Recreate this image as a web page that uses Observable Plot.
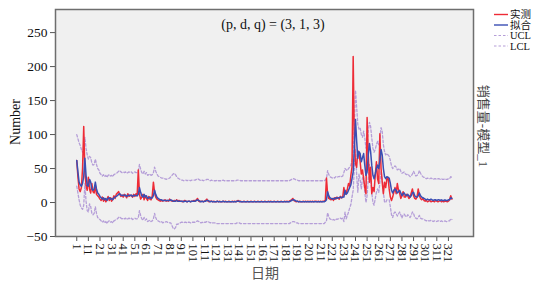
<!DOCTYPE html>
<html><head><meta charset="utf-8">
<script src="https://cdn.jsdelivr.net/npm/d3@7"></script>
<script src="https://cdn.jsdelivr.net/npm/@observablehq/plot@0.6"></script>
<style>body{margin:0;background:#fff} #chart{width:540px;height:283px}</style>
</head><body><div id="chart"></div><script>
const actual = [
62,38,20,16,22,50,112,45,25,18,
37,20,14,28,16,14,25,12,10,8,
5,3,8,2,6,1,4,9,3,7,
2,5,10,6,12,14,16,12,9,11,
8,12,10,7,13,9,11,10,8,12,
9,13,10,48,12,5,8,12,4,10,
6,3,9,5,4,10,30,15,8,5,
4,3,2,3,2,3,4,2,3,2,
5,3,2,2,3,2,4,2,3,2,
2,1,2,3,2,1,2,2,1,2,
2,3,2,4,6,2,1,2,2,1,
2,3,5,2,1,2,2,1,2,1,
1,2,1,2,1,1,2,1,2,1,
1,2,1,1,2,1,2,1,2,3,
1,2,1,1,2,1,1,2,1,1,
2,1,1,2,1,1,2,1,1,2,
1,1,2,1,1,2,1,2,1,1,
2,1,1,2,1,1,2,1,1,2,
1,2,1,2,3,4,6,3,2,1,
2,1,2,1,1,2,1,2,1,2,
1,2,1,2,1,2,2,1,2,1,
2,1,2,2,3,36,12,6,5,4,
6,3,7,5,8,6,5,9,7,8,
22,12,14,20,28,24,40,52,215,90,
57,52,76,72,60,42,48,35,22,13,
125,70,30,52,13,22,16,40,60,35,
28,101,50,30,13,30,22,35,37,20,
8,3,8,15,22,13,28,18,14,6,
10,16,8,8,12,10,6,8,14,20,
10,6,5,8,20,10,6,4,6,3,
2,3,1,2,3,1,2,2,1,3,
2,1,2,3,1,2,1,2,2,1,
2,4,10,5];
const fitted = [
62,45,30,26,24,28,38,65,40,25,
24,34,30,20,18,20,30,20,14,12,
9,7,5,7,4,6,3,6,7,5,
6,4,7,8,9,10,12,13,11,10,
11,10,11,9,10,11,10,11,9,10,
11,10,10,12,22,15,10,8,12,8,
10,6,7,8,6,7,10,18,12,8,
6,5,4,4,3,3,3,3,3,3,
3,4,3,2,2,2,3,2,2,2,
2,2,1,2,2,1,2,2,1,2,
2,2,2,3,4,3,2,1,2,1,
2,2,3,3,2,1,2,1,1,1,
1,2,1,1,1,1,2,1,1,1,
1,1,1,1,1,1,1,1,2,2,
2,1,1,1,1,1,1,1,1,1,
1,1,1,1,1,1,1,1,1,1,
1,1,1,1,1,1,1,1,1,1,
1,1,1,1,1,1,1,1,1,1,
1,1,1,1,2,3,4,4,3,2,
2,1,1,1,1,1,1,1,1,1,
1,1,1,1,1,1,1,1,1,1,
1,1,1,1,2,4,16,10,7,6,
5,6,5,7,6,7,7,8,7,8,
8,18,12,14,18,22,26,35,45,80,
122,90,65,75,72,60,66,72,55,40,
45,70,87,75,55,40,35,42,50,55,
50,62,78,70,50,38,35,38,37,36,
28,18,14,18,20,18,14,16,18,14,
10,13,14,11,10,12,10,8,10,14,
15,10,8,8,10,14,10,8,7,6,
5,4,5,4,4,5,4,3,4,4,
3,4,4,3,4,3,3,4,3,3,
4,4,7,6];
const ucl = [
100,94,88,84,78,74,76,96,80,70,
64,68,66,58,55,56,64,56,50,48,
43,41,39,41,38,40,37,40,41,39,
40,38,41,42,43,44,46,47,45,44,
45,44,45,43,44,45,44,45,43,44,
45,44,44,46,56,49,44,42,46,42,
44,40,41,42,40,41,44,52,46,42,
39,38,37,36,36,35,35,34,35,35,
36,38,40,42,43,41,38,36,35,34,
33,33,32,33,33,32,33,33,32,33,
33,33,33,34,35,34,33,32,33,32,
33,33,34,34,33,32,33,32,32,32,
32,33,32,32,32,32,33,32,32,32,
32,32,32,32,32,32,32,32,33,33,
33,32,32,32,32,32,32,32,32,32,
32,32,32,32,32,32,32,32,32,32,
32,32,32,32,32,32,32,32,32,32,
32,32,32,32,32,32,32,32,32,32,
32,32,32,32,33,34,35,35,34,33,
33,32,32,32,32,32,32,32,32,32,
32,32,32,32,32,32,32,32,32,32,
32,32,32,32,33,35,47,41,38,37,
36,37,36,38,37,38,38,39,38,39,
44,50,48,47,50,52,55,62,72,110,
165,140,115,108,110,100,96,105,95,80,
80,105,118,112,95,80,74,78,85,90,
85,95,110,105,85,75,70,72,70,68,
62,54,50,52,54,52,48,49,50,46,
43,44,45,42,41,42,40,38,39,42,
46,42,39,40,42,47,43,40,38,37,
36,35,36,35,35,36,35,34,35,35,
34,35,35,34,35,34,34,35,34,34,
35,35,38,37];
const lcl = [
24,14,4,-4,-8,-10,-4,28,2,-12,
-14,-2,-6,-16,-18,-16,-6,-16,-22,-24,
-25,-27,-29,-27,-30,-28,-31,-28,-27,-29,
-28,-30,-27,-26,-25,-24,-22,-21,-23,-24,
-23,-24,-23,-25,-24,-23,-24,-23,-25,-24,
-23,-24,-24,-22,-12,-19,-24,-26,-22,-26,
-24,-28,-27,-26,-28,-27,-24,-16,-22,-26,
-27,-28,-29,-28,-30,-29,-29,-28,-29,-29,
-30,-30,-34,-38,-39,-37,-32,-32,-31,-30,
-29,-29,-30,-29,-29,-30,-29,-29,-30,-29,
-29,-29,-29,-28,-27,-28,-29,-30,-29,-30,
-29,-29,-28,-28,-29,-30,-29,-30,-30,-30,
-31,-31,-31,-31,-31,-31,-31,-31,-31,-31,
-31,-31,-31,-31,-31,-31,-31,-31,-30,-30,
-30,-31,-31,-31,-31,-31,-31,-31,-31,-31,
-31,-31,-31,-31,-31,-31,-31,-31,-31,-31,
-31,-31,-31,-31,-31,-31,-31,-31,-31,-31,
-31,-31,-31,-31,-31,-31,-31,-31,-31,-31,
-31,-31,-31,-31,-30,-29,-28,-28,-29,-30,
-30,-31,-31,-31,-31,-31,-31,-31,-31,-31,
-31,-31,-31,-31,-31,-31,-31,-31,-31,-31,
-31,-31,-31,-31,-29,-27,-15,-21,-24,-25,
-26,-25,-26,-24,-25,-24,-24,-23,-24,-23,
-28,-14,-24,-19,-14,-8,-3,8,18,50,
79,40,15,42,34,20,36,39,15,0,
10,35,56,38,15,0,-4,6,15,20,
15,29,46,35,15,1,0,4,4,4,
-6,-18,-22,-16,-14,-16,-20,-17,-14,-18,
-23,-18,-17,-20,-21,-18,-20,-22,-19,-14,
-16,-22,-23,-24,-22,-19,-23,-24,-24,-25,
-26,-27,-26,-27,-27,-26,-27,-28,-27,-27,
-28,-27,-27,-28,-27,-28,-28,-27,-28,-28,
-27,-27,-24,-25];
const xTicks = [1,11,21,31,41,51,61,71,81,91,101,111,121,131,141,151,161,171,181,191,201,211,221,231,241,251,261,271,281,291,301,311,321];
const yTicks = [-50,0,50,100,150,200,250];
const seriesNames = ["实测","拟合","UCL","LCL"];
const seriesColors = ["#ee2b36","#3a4eb3","#b59ed8","#b59ed8"];
const titleText = "(p, d, q) = (3, 1, 3)";
const xLabel = "日期";
const yLabel = "Number";
const rightLabel = "销售量-模型_1";

const rows = actual.map((v, i) => ({day: i + 1, actual: v, fitted: fitted[i], ucl: ucl[i], lcl: lcl[i]}));
const serif = "'Liberation Serif', 'Times New Roman', serif";
const cjk = "'Liberation Serif', 'Noto Sans CJK SC', serif";

const chart = Plot.plot({
  width: 540, height: 283,
  marginLeft: 55, marginRight: 67, marginTop: 9, marginBottom: 47,
  x: {domain: [-17.3, 342.6]},
  y: {domain: [-50, 284]},
  style: {fontFamily: serif, fontSize: "12px", background: "#fff", color: "#111"},
  marks: [
    Plot.frame({fill: "#f0f0f0"}),
    Plot.axisY({ticks: yTicks, tickSize: 5, tickPadding: 3, label: null, fontSize: 13.5, stroke: "#555"}),
    Plot.axisX({ticks: xTicks, tickRotate: 90, tickSize: 5, tickPadding: 2, label: null, fontSize: 12.5, stroke: "#555"}),
    Plot.line(rows, {x: "day", y: "ucl", stroke: seriesColors[2], strokeWidth: 1.3, strokeDasharray: "2.5,2"}),
    Plot.line(rows, {x: "day", y: "lcl", stroke: seriesColors[3], strokeWidth: 1.3, strokeDasharray: "2.5,2"}),
    Plot.line(rows, {x: "day", y: "actual", stroke: seriesColors[0], strokeWidth: 1.5}),
    Plot.line(rows, {x: "day", y: "fitted", stroke: seriesColors[1], strokeWidth: 1.5}),
    Plot.frame({stroke: "#6e6e6e", strokeWidth: 1.5})
  ]
});
document.getElementById("chart").appendChild(chart);

const svg = d3.select(chart);
svg.append("text").attr("x", 273).attr("y", 29)
  .attr("text-anchor", "middle")
  .style("font-family", serif).style("font-size", "14px").attr("fill", "#111").text(titleText);
svg.append("text").attr("transform", "translate(20,122) rotate(-90)")
  .attr("text-anchor", "middle")
  .style("font-family", serif).style("font-size", "14px").attr("fill", "#111").text(yLabel);
svg.append("text").attr("x", 265).attr("y", 278)
  .attr("text-anchor", "middle")
  .style("font-family", cjk).style("font-size", "14px").attr("fill", "#555").text(xLabel);
svg.append("text").attr("transform", "translate(479,126) rotate(90)")
  .attr("text-anchor", "middle")
  .style("font-family", cjk).style("font-size", "13px").attr("fill", "#444").text(rightLabel);

const legendY = [14.5, 25, 35.5, 46];
seriesNames.forEach((name, i) => {
  svg.append("line").attr("x1", 494).attr("x2", 508).attr("y1", legendY[i]).attr("y2", legendY[i])
    .attr("stroke", seriesColors[i]).attr("stroke-width", i < 2 ? 1.4 : 1.2)
    .attr("stroke-dasharray", i < 2 ? null : "2.5,2");
  svg.append("text").attr("x", 510).attr("y", legendY[i] + 3.6)
    .attr("text-anchor", "start")
    .style("font-family", cjk).style("font-size", "10.5px").attr("fill", "#111").text(name);
});
</script></body></html>
